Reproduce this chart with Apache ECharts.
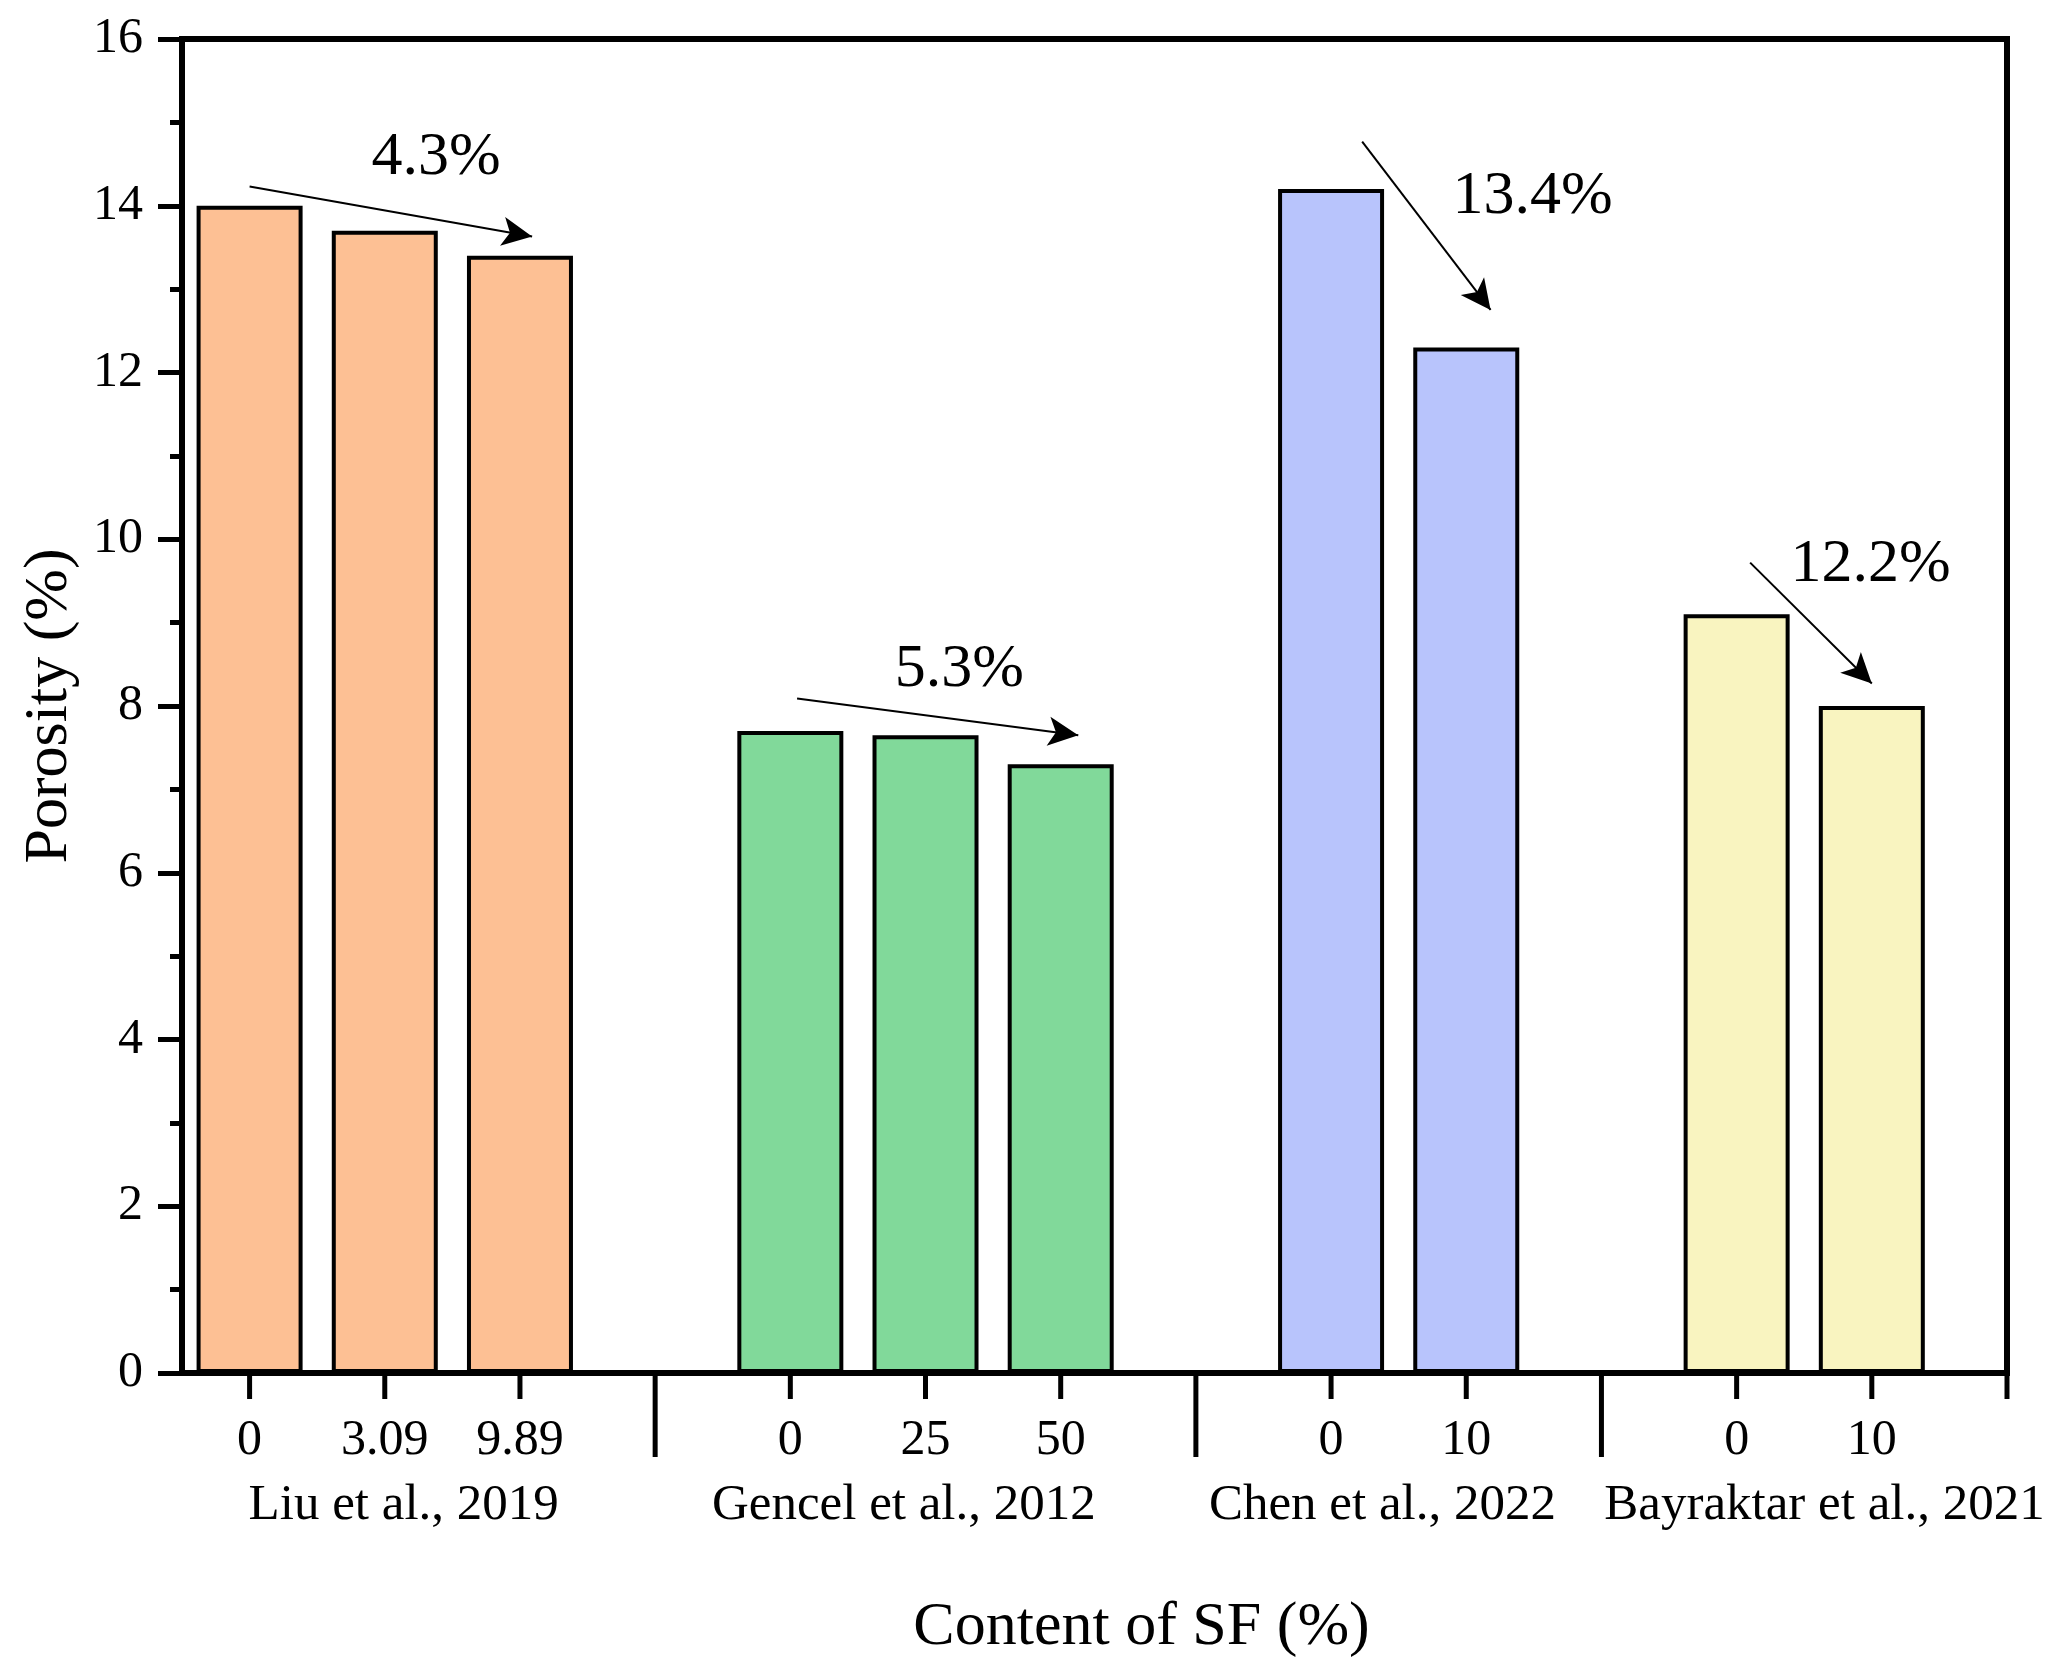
<!DOCTYPE html>
<html>
<head>
<meta charset="utf-8">
<title>Porosity vs content of SF</title>
<script src="https://cdn.jsdelivr.net/npm/echarts@6/dist/echarts.min.js"></script>
<style>
  html, body { margin: 0; background: #fff; }
  #chart { width: 2061px; height: 1675px; }
</style>
</head>
<body>
<div id="chart"></div>
<script>
// studies and their measurements
const studies = ['Liu et al., 2019', 'Gencel et al., 2012', 'Chen et al., 2022', 'Bayraktar et al., 2021'];
const sfContent = [
  ['0', '3.09', '9.89'],
  ['0', '25', '50'],
  ['0', '10'],
  ['0', '10']
];
const porosity = [
  [14.0, 13.7, 13.4],
  [7.7, 7.65, 7.3],
  [14.2, 12.3],
  [9.1, 8.0]
];

// drop annotations (data coordinates: slot, porosity)
const dropText = ['4.3%', '5.3%', '13.4%', '12.2%'];
const dropFrom = [[0.0, 14.23], [4.05, 8.09], [8.23, 14.77], [11.10, 9.72]];
const dropTo = [[2.09, 13.63], [6.13, 7.65], [9.18, 12.75], [12.0, 8.27]];
const dropTextAt = [[1.38, 14.58], [5.25, 8.43], [9.49, 14.11], [11.99, 9.69]];

const groupColors = ['#FDC094', '#81D99A', '#B8C4FC', '#F9F4C0'];
// small horizontal nudges of the study names, in slots
const groupLabelNudge = [0.14, -0.16, -0.12, 0.15];
const FONT = "'Liberation Serif', 'Times New Roman', serif";

// lay the bars out in slots, one empty slot between studies
const barData = [];
const tickData = [];
const tickLabels = [];
const groupData = [];
let pos = 0;
studies.forEach((name, g) => {
  const first = pos;
  porosity[g].forEach((v, i) => {
    barData.push({ value: [pos, v], itemStyle: { color: groupColors[g] } });
    tickData.push([pos, 0]);
    tickLabels.push(sfContent[g][i]);
    pos++;
  });
  groupData.push([(first + pos - 1) / 2 + groupLabelNudge[g], 0]);
  if (g < studies.length - 1) {
    tickData.push([pos, 1]);   // long separator tick
    tickLabels.push('');
    pos++;
  } else {
    tickData.push([pos, 0]);
    tickLabels.push('');
  }
});
const xMax = pos;

const chart = echarts.init(document.getElementById('chart'));

const option = {
  animation: false,
  backgroundColor: '#fff',
  grid: {
    left: 182, right: 54, top: 39, bottom: 302,
    show: true, borderColor: '#000', borderWidth: 6
  },
  xAxis: {
    type: 'value',
    min: -0.5,
    max: xMax,
    name: 'Content of SF (%)',
    nameLocation: 'middle',
    nameGap: 224,
    nameTextStyle: { fontFamily: FONT, fontSize: 62, color: '#000', padding: [0, 0, 0, 94] },
    axisLine: { show: true, onZero: false, lineStyle: { color: '#000', width: 6 } },
    axisTick: { show: false },
    axisLabel: { show: false },
    splitLine: { show: false }
  },
  yAxis: {
    type: 'value',
    min: 0,
    max: 16,
    interval: 2,
    name: 'Porosity (%)',
    nameLocation: 'middle',
    nameGap: 101,
    nameTextStyle: { fontFamily: FONT, fontSize: 62, color: '#000' },
    axisLine: { show: true, onZero: false, lineStyle: { color: '#000', width: 6 } },
    axisTick: { show: true, inside: false, length: 24, lineStyle: { color: '#000', width: 5 } },
    minorTick: { show: true, splitNumber: 2, length: 12, lineStyle: { color: '#000', width: 5 } },
    axisLabel: { fontFamily: FONT, fontSize: 50, color: '#000', margin: 39 },
    splitLine: { show: false }
  },
  series: [
    {
      type: 'bar',
      data: barData,
      barWidth: 106,
      itemStyle: { borderColor: '#000', borderWidth: 4 },
      silent: true,
      markLine: {
        silent: true,
        symbol: ['none', 'arrow'],
        symbolSize: [22, 30],
        label: { show: false },
        lineStyle: { color: '#000', width: 2, type: 'solid' },
        data: dropFrom.map((f, i) => [{ coord: f }, { coord: dropTo[i] }])
      },
      markPoint: {
        silent: true,
        symbol: 'circle',
        symbolSize: 0,
        label: { show: true, position: 'inside', fontFamily: FONT, fontSize: 62, color: '#000' },
        data: dropTextAt.map((c, i) => ({ coord: c, value: dropText[i], label: { formatter: dropText[i] } }))
      }
    },
    {
      // x ticks and SF content labels
      type: 'custom',
      silent: true,
      clip: false,
      data: tickData,
      renderItem: function (params, api) {
        const p = api.coord([api.value(0), 0]);
        const len = api.value(1) ? 82 : 24;
        return {
          type: 'group',
          children: [
            { type: 'line', shape: { x1: p[0], y1: p[1] + 2, x2: p[0], y2: p[1] + 2 + len },
              style: { stroke: '#000', lineWidth: 5 } },
            { type: 'text', style: { text: tickLabels[params.dataIndex], x: p[0], y: p[1] + 68,
              align: 'center', verticalAlign: 'middle', fontSize: 50, fontFamily: FONT, fill: '#000' } }
          ]
        };
      }
    },
    {
      // study names under each group
      type: 'custom',
      silent: true,
      clip: false,
      data: groupData,
      renderItem: function (params, api) {
        const p = api.coord([api.value(0), 0]);
        return {
          type: 'text',
          style: { text: studies[params.dataIndex], x: p[0], y: p[1] + 133,
            align: 'center', verticalAlign: 'middle', fontSize: 51, fontFamily: FONT, fill: '#000' }
        };
      }
    }
  ]
};

chart.setOption(option);
</script>
</body>
</html>
